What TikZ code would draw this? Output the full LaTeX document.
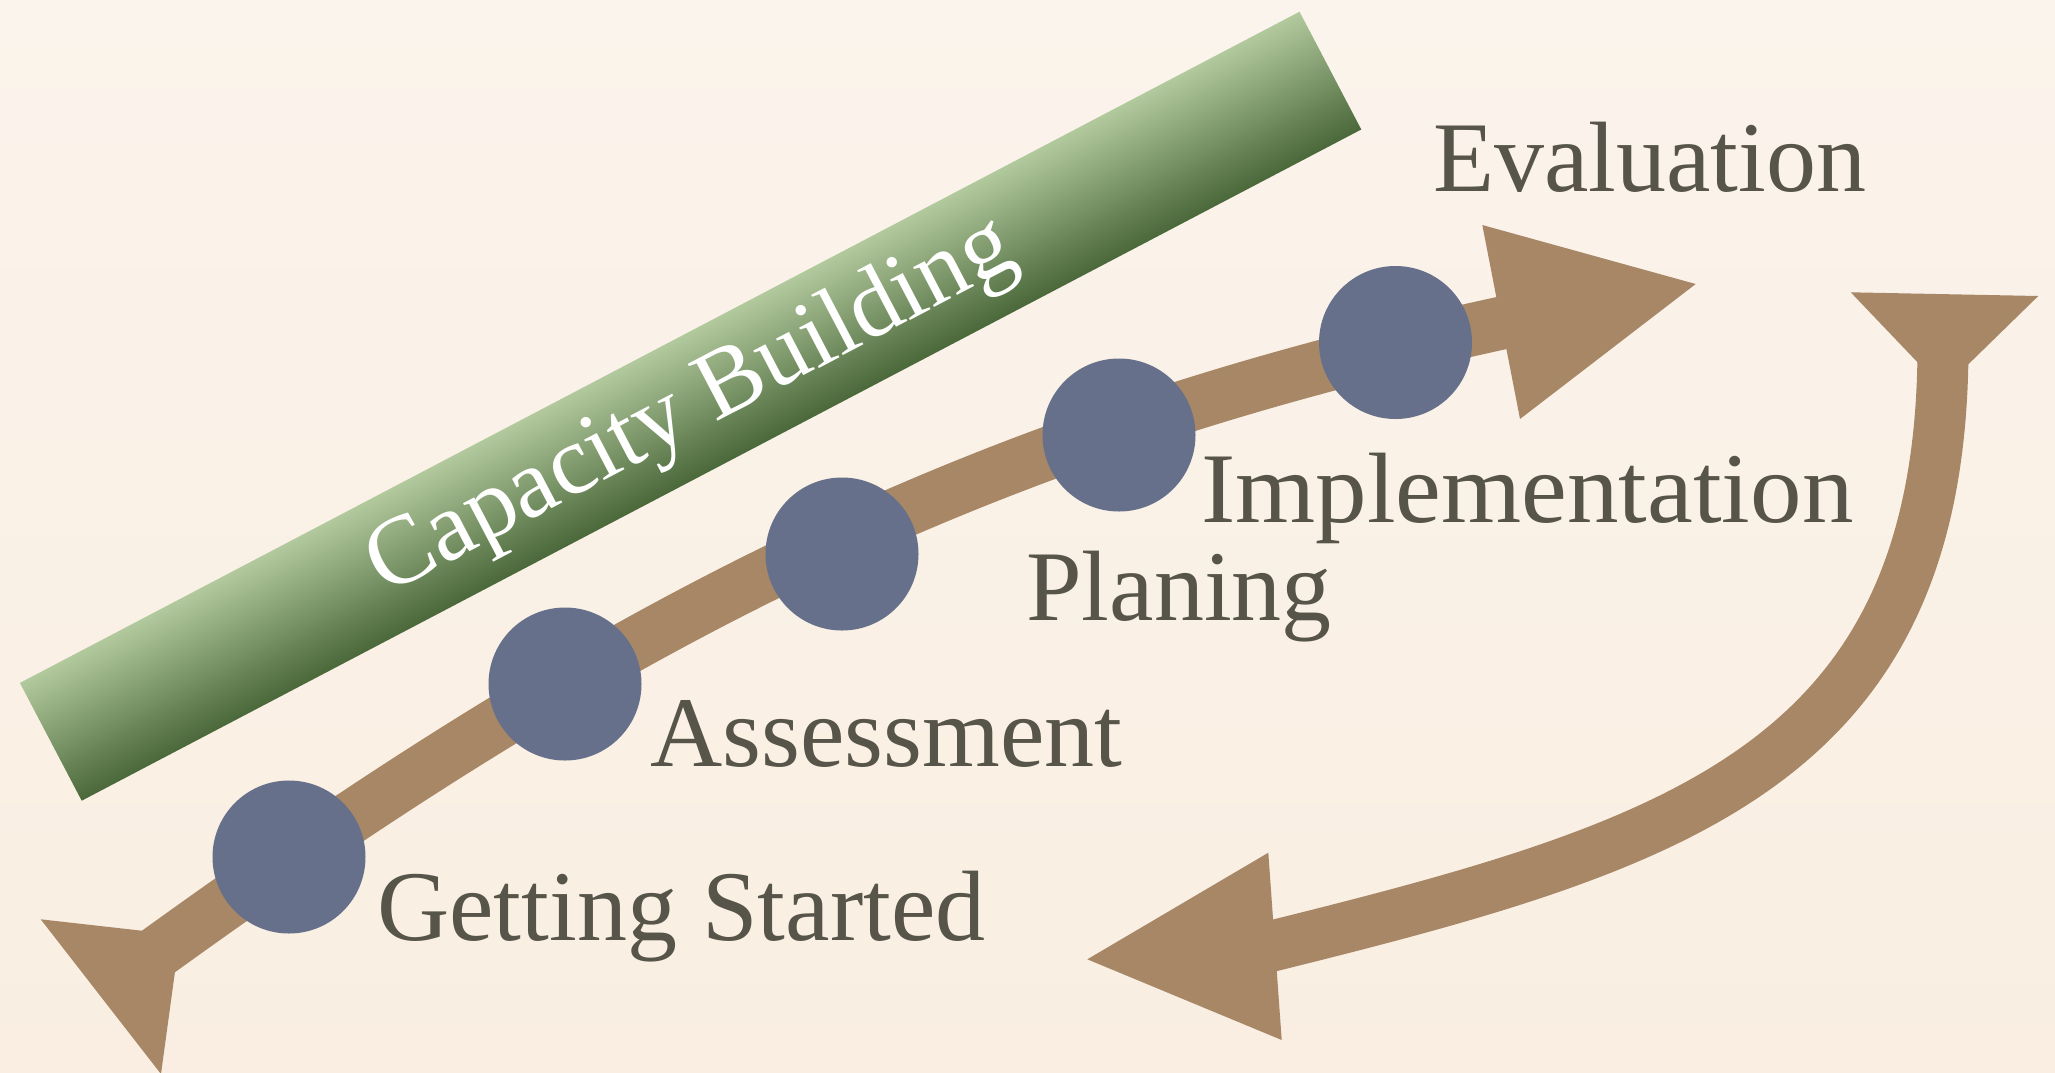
\documentclass[tikz,border=0pt]{standalone}
\usepackage{fontspec}
\setmainfont{Liberation Serif}
\definecolor{bgtop}{RGB}{251,244,236}
\definecolor{bgbot}{RGB}{249,238,225}
\definecolor{brownarrow}{RGB}{168,135,103}
\definecolor{dotblue}{RGB}{102,112,138}
\definecolor{labelgray}{RGB}{87,84,74}
\definecolor{greenlight}{RGB}{178,201,157}
\definecolor{greendark}{RGB}{74,104,58}
\tikzset{
  stage/.style={circle, fill=dotblue, minimum size=153pt, inner sep=0pt},
  steplabel/.style={anchor=base west, inner sep=0pt, text=labelgray, font=\fontsize{100pt}{110pt}\selectfont},
  captext/.style={anchor=base, inner sep=0pt, text=white, font=\fontsize{98pt}{108pt}\selectfont},
  shaft/.style={draw=brownarrow, line width=53pt, line cap=butt},
  arrowhead/.style={fill=brownarrow},
}
\begin{document}
\begin{tikzpicture}[x=1pt,y=-1pt]
% background
\shade[top color=bgtop, bottom color=bgbot] (0,0) rectangle (2055,1072);
\useasboundingbox (0,0) rectangle (2055,1072);

% green band
\begin{scope}[transform canvas={shift={(690.6,406.2)}, rotate=27.68}]
  \shade[top color=greenlight, bottom color=greendark] (-722.5,-66.5) rectangle (722.5,66.5);
\end{scope}
\node[captext, rotate=27.68] (cb) at (702.7,429.2) {Capacity Building};

% main arrow
\coordinate (ms) at (141.7,963.6);
\coordinate (me) at (1511,321);
\draw[shaft] (ms) .. controls (612,622) and (976,436) .. (me);
\fill[arrowhead] (1482.3,225) -- (1695.7,284) -- (1520,419) -- cycle;
\fill[arrowhead] (40.7,919.3) -- (180,935) -- (161,1074) -- cycle;

% stages
\node[stage] (s1) at (289,857) {};
\node[stage] (s2) at (565,684) {};
\node[stage] (s3) at (842,554) {};
\node[stage] (s4) at (1119,435) {};
\node[stage] (s5) at (1395.5,342.5) {};

% labels
\node[steplabel] (l5) at (1433,191) {Evaluation};
\node[steplabel, xscale=1.03] (l4) at (1201,522) {Implementation};
\node[steplabel] (l3) at (1026,620) {Planing};
\node[steplabel] (l2) at (650,766) {Assessment};
\node[steplabel] (l1) at (377,940) {Getting Started};

% curved double arrow
\coordinate (cs) at (1943,345);
\coordinate (ce) at (1268,947);
\draw[shaft, line width=51pt] (cs) .. controls (1943,765) and (1680,845) .. (ce);
\fill[arrowhead] (1850.7,292.3) -- (2038.3,296) -- (1943,389) -- cycle;
\fill[arrowhead] (1268.3,852.7) -- (1087.3,959.3) -- (1281.7,1040) -- cycle;
\end{tikzpicture}
\end{document}
